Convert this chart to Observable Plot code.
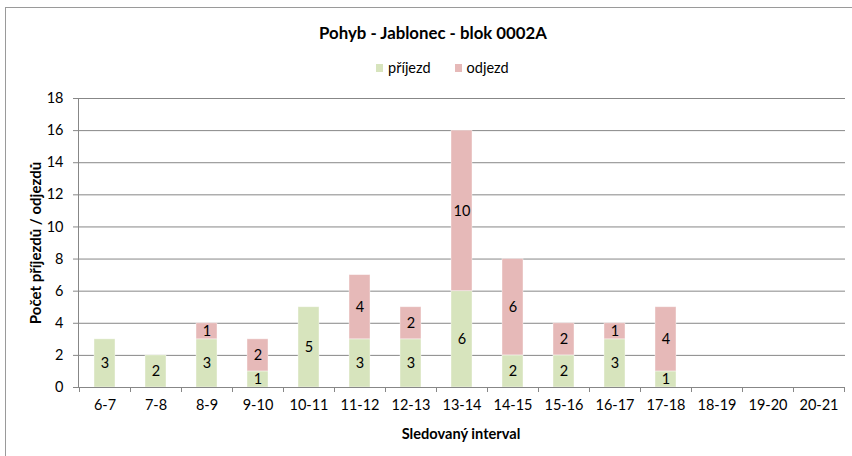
<!DOCTYPE html>
<html><head><meta charset="utf-8">
<script src="https://cdn.jsdelivr.net/npm/d3@7"></script>
<script src="https://cdn.jsdelivr.net/npm/@observablehq/plot@0.6"></script>
<style>
body{margin:0;background:#fff;font-family:Lato,"Open Sans",sans-serif;color:#000;}
#frame{position:absolute;left:5px;top:7px;width:870px;height:470px;border:1px solid #9a9a9a;box-sizing:border-box;}
#title{position:absolute;left:0;width:866px;top:22px;text-align:center;font-weight:bold;font-size:16.8px;}
#legend{position:absolute;left:376px;top:59px;font-size:14.5px;display:flex;align-items:center;white-space:nowrap;}
#legend span.sw{display:inline-block;width:7px;height:8px;margin-right:5px;}
#legend span.lab{margin-right:24px;}
#ylab{position:absolute;left:35px;top:243px;transform:translate(-50%,-50%) rotate(-90deg);font-weight:bold;font-size:15px;white-space:nowrap;}
#xlab{position:absolute;left:461px;top:433px;transform:translate(-50%,-50%);font-weight:bold;font-size:14.6px;white-space:nowrap;}
#chart{position:absolute;left:0;top:85px;}
</style>
</head><body>
<div id="frame"></div>
<div id="title">Pohyb - Jablonec - blok 0002A</div>
<div id="legend"></div>
<div id="ylab">Počet příjezdů / odjezdů</div>
<div id="xlab">Sledovaný interval</div>
<div id="chart"></div>
<script>
const categories = ["6-7","7-8","8-9","9-10","10-11","11-12","12-13","13-14","14-15","15-16","16-17","17-18","18-19","19-20","20-21"];
const prijezd = [3,2,3,1,5,3,3,6,2,2,3,1,0,0,0];
const odjezd  = [0,0,1,2,0,4,2,10,6,2,1,4,0,0,0];
const seriesNames = ["příjezd","odjezd"];
const seriesColors = ["#d7e4bd","#e6b9b8"];
const yTicks = [0,2,4,6,8,10,12,14,16,18];

const rows = [
  ...categories.map((c,i)=>({interval:c, series:seriesNames[0], value:prijezd[i]})),
  ...categories.map((c,i)=>({interval:c, series:seriesNames[1], value:odjezd[i]}))
];

// legend
const lg = document.getElementById("legend");
seriesNames.forEach((s,i)=>{
  const sw = document.createElement("span"); sw.className="sw"; sw.style.background=seriesColors[i];
  const lab = document.createElement("span"); lab.className="lab"; lab.textContent=s;
  lg.appendChild(sw); lg.appendChild(lab);
});

const gridColor = "#878787";

function boundaryTicks(index, scales, values, dims) {
  const x = scales.x;
  const step = x(categories[1]) - x(categories[0]);
  const bw = x.bandwidth ? x.bandwidth() : 0;
  const y0 = scales.y(0);
  const g = d3.create("svg:g").attr("stroke", gridColor);
  const edges = categories.map(c => x(c) + bw/2 - step/2);
  edges.push(x(categories[categories.length-1]) + bw/2 + step/2);
  for (const e of edges) {
    g.append("line").attr("x1", Math.round(e)+0.5).attr("x2", Math.round(e)+0.5)
      .attr("y1", y0).attr("y2", y0 + 5);
  }
  return g.node();
}

const chart = Plot.plot({
  width: 852, height: 371,
  marginLeft: 78, marginRight: 7, marginTop: 13, marginBottom: 69,
  style: {fontFamily: 'Lato,"Open Sans",sans-serif', fontSize: "14.5px", color: "#000", background: "transparent", overflow: "visible"},
  x: {domain: categories, paddingInner: 0.59, paddingOuter: 0.295, align: 0.5},
  y: {domain: [0, 18]},
  color: {domain: seriesNames, range: seriesColors},
  marks: [
    Plot.gridY(yTicks.filter(t => t > 0), {stroke: gridColor, strokeOpacity: 1}),
    Plot.barY(rows, Plot.stackY({x: "interval", y: "value", fill: "series", stroke: "#ffffff", strokeOpacity: 0.5, strokeWidth: 0.8})),
    Plot.text(rows, Plot.stackY({x: "interval", y: "value", z: "series", text: "value", filter: d => d.value > 0, fill: "#000", fontSize: 14.5})),
    Plot.frame({anchor: "left", stroke: gridColor, strokeOpacity: 1}),
    Plot.ruleY([0], {stroke: gridColor}),
    Plot.axisY(yTicks, {tickSize: 5, tickPadding: 10, stroke: gridColor, label: null, fontSize: 14.5}),
    Plot.axisX({tickSize: 0, tickPadding: 12, label: null, fontSize: 14.5}),
    boundaryTicks
  ]
});
document.getElementById("chart").appendChild(chart);
</script>
</body></html>
